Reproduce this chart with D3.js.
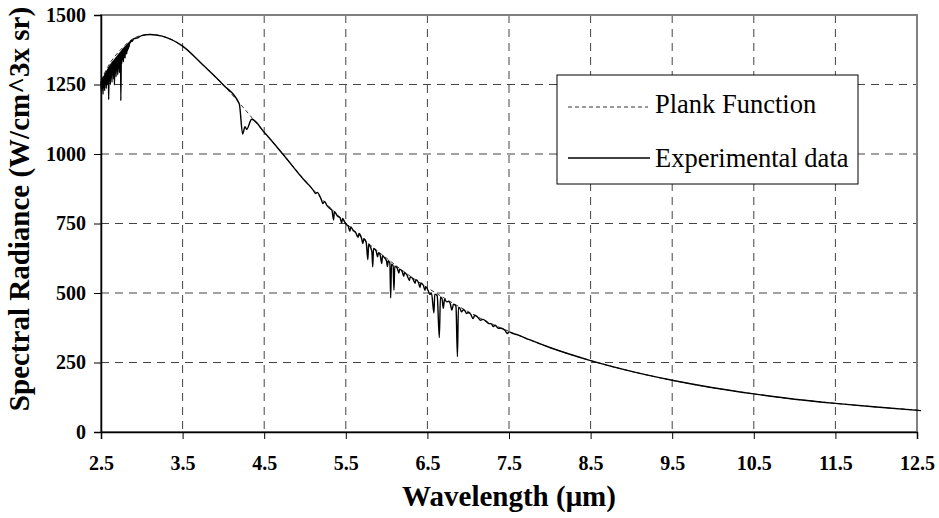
<!DOCTYPE html>
<html>
<head>
<meta charset="utf-8">
<script src="https://cdn.jsdelivr.net/npm/d3@7"></script>
<style>
  body { margin: 0; background: #fff; }
  svg text { font-family: "Liberation Serif", "Times New Roman", serif; }
</style>
</head>
<body>
<div id="chart"></div>
<script>
// data
var xTicks = [2.5, 3.5, 4.5, 5.5, 6.5, 7.5, 8.5, 9.5, 10.5, 11.5, 12.5];
var yTicks = [0, 250, 500, 750, 1000, 1250, 1500];

var planckWl = [2.5, 2.6, 2.75, 2.9, 3.0, 3.1, 3.25, 3.5, 3.75, 4.0, 4.25, 4.5, 4.75, 5.0, 5.25, 5.5, 5.75, 6.0, 6.25, 6.5, 6.75, 7.0, 7.25, 7.5, 8.0, 8.5, 9.0, 9.5, 10.0, 10.5, 11.0, 11.5, 12.0, 12.5];
var planckVal = [1265, 1322, 1378, 1416, 1427, 1430, 1424, 1388, 1320, 1248, 1165, 1078, 992, 905, 825, 752, 685, 625, 569, 519, 474, 433, 394, 362, 304, 257, 218, 186, 159, 137, 118, 103, 90, 79];

// experimental spectrum: noisy water band near 2.7, CO2 notch near 4.25, dense lines 5.2-7.6
var expWl = [
  2.5, 2.505, 2.51, 2.515, 2.52, 2.525, 2.53, 2.535, 2.54, 2.545, 2.55, 2.555, 2.56, 2.565, 2.57, 2.575, 2.58, 2.585, 2.59, 2.594,
  2.6, 2.605, 2.61, 2.615, 2.62, 2.625, 2.63, 2.635, 2.64, 2.645, 2.65, 2.655, 2.66, 2.665, 2.67, 2.675, 2.68, 2.685, 2.69, 2.695,
  2.7, 2.705, 2.71, 2.715, 2.72, 2.725, 2.73, 2.735, 2.74, 2.743, 2.75, 2.755, 2.76, 2.765, 2.77, 2.775, 2.78, 2.785, 2.79, 2.795,
  2.8, 2.805, 2.81, 2.815, 2.82, 2.825, 2.83, 2.835, 2.84, 2.845, 2.85, 2.86, 2.87, 2.88, 2.9, 2.95, 3.0, 3.1, 3.25, 3.5, 3.75, 4.0,
  4.195, 4.236, 4.265, 4.285, 4.347, 4.5, 4.75,
  5.0, 5.05, 5.1, 5.13, 5.15, 5.2, 5.22, 5.24, 5.27, 5.3, 5.33, 5.35, 5.36, 5.4, 5.43, 5.45, 5.46, 5.5, 5.53, 5.55, 5.56, 5.59, 5.62, 5.65, 5.66, 5.69, 5.71, 5.72, 5.75, 5.77, 5.78, 5.8, 5.82, 5.83, 5.84, 5.87, 5.89, 5.9, 5.92, 5.94, 5.95, 5.97, 6.0, 6.01, 6.02, 6.04, 6.05, 6.06, 6.08, 6.09, 6.1, 6.13, 6.15, 6.16, 6.19, 6.21, 6.22, 6.25, 6.28, 6.29, 6.32, 6.35, 6.36, 6.39, 6.41, 6.42, 6.45, 6.47, 6.48, 6.51, 6.53, 6.55, 6.58, 6.59, 6.62, 6.646, 6.66, 6.68, 6.695, 6.71, 6.736, 6.76, 6.78, 6.8, 6.82, 6.85, 6.868, 6.88, 6.9, 6.92, 6.94, 6.96, 6.98, 7.0, 7.03, 7.06, 7.08, 7.12, 7.15, 7.18, 7.22, 7.25, 7.28, 7.31, 7.33, 7.37, 7.4, 7.45, 7.48, 7.5, 7.55, 7.6,
  7.75, 8.0, 8.5, 9.0, 9.5, 10.0, 10.5, 11.0, 11.5, 12.0, 12.55];
var expVal = [
  1262, 1225, 1266, 1238, 1272, 1215, 1278, 1240, 1284, 1228, 1289, 1250, 1295, 1236, 1300, 1255, 1305, 1248, 1310, 1196,
  1316, 1262, 1320, 1250, 1324, 1275, 1328, 1258, 1332, 1285, 1336, 1270, 1339, 1248, 1343, 1292, 1346, 1278, 1350, 1300,
  1354, 1285, 1358, 1310, 1361, 1292, 1365, 1318, 1368, 1192, 1372, 1325, 1376, 1340, 1379, 1332, 1382, 1350, 1385, 1345,
  1388, 1362, 1391, 1360, 1394, 1372, 1397, 1378, 1400, 1385, 1403, 1400, 1409, 1405, 1414, 1418, 1426, 1430, 1424, 1388, 1320, 1248,
  1180, 1072, 1098, 1089, 1125, 1078, 992,
  903, 888, 870, 858, 862, 836, 822, 829, 814, 805, 798, 763, 792, 776, 770, 752, 768, 748, 740, 722, 738, 725, 718, 700, 714, 700, 678, 695, 682, 620, 676, 666, 648, 594, 660, 652, 630, 645, 638, 606, 634, 628, 614, 595, 616, 608, 482, 604, 598, 510, 596, 590, 572, 586, 578, 560, 574, 564, 545, 558, 552, 535, 548, 538, 520, 536, 528, 510, 522, 508, 495, 500, 428, 496, 490, 340, 486, 478, 445, 478, 468, 470, 462, 439, 460, 452, 271, 448, 444, 432, 440, 436, 426, 430, 424, 408, 420, 412, 402, 405, 398, 390, 390, 379, 384, 373, 373, 366, 354, 360, 354, 350,
  332, 304, 257, 218, 186, 159, 137, 118, 103, 90, 77];

var svgWidth = 939;
var svgHeight = 518;
var plot = {left: 101, right: 917, top: 15, bottom: 432};
var serif = "'Liberation Serif', 'Times New Roman', serif";

var svg = d3.select("#chart")
    .append("svg")
    .attr("width", svgWidth)
    .attr("height", svgHeight);

var xScale = d3.scaleLinear().domain([2.5, 12.5]).range([plot.left, plot.right]);
var yScale = d3.scaleLinear().domain([0, 1500]).range([plot.bottom, plot.top]);

// grid lines
svg.append("g")
    .selectAll("line")
    .data(xTicks.slice(1, -1))
    .enter()
    .append("line")
    .attr("x1", d => xScale(d)).attr("x2", d => xScale(d))
    .attr("y1", plot.top).attr("y2", plot.bottom)
    .attr("stroke", "#444").attr("stroke-width", 1)
    .attr("stroke-dasharray", "8,6");
svg.append("g")
    .selectAll("line")
    .data(yTicks.slice(1, -1))
    .enter()
    .append("line")
    .attr("x1", plot.left).attr("x2", plot.right)
    .attr("y1", d => yScale(d)).attr("y2", d => yScale(d))
    .attr("stroke", "#444").attr("stroke-width", 1)
    .attr("stroke-dasharray", "8,6");

// plot area border
svg.append("rect")
    .attr("x", plot.left).attr("y", plot.top)
    .attr("width", plot.right - plot.left).attr("height", plot.bottom - plot.top)
    .attr("fill", "none").attr("stroke", "#808080").attr("stroke-width", 2);

// curves
var planckLine = d3.line()
    .x((d, i) => xScale(planckWl[i]))
    .y(d => yScale(d))
    .curve(d3.curveMonotoneX);
var expLine = d3.line()
    .x((d, i) => xScale(expWl[i]))
    .y(d => yScale(d))
    .curve(d3.curveMonotoneX);

svg.append("path")
    .attr("d", planckLine(planckVal))
    .attr("fill", "none").attr("stroke", "#333").attr("stroke-width", 1)
    .attr("stroke-dasharray", "4,3");
svg.append("path")
    .attr("d", expLine(expVal))
    .attr("fill", "none").attr("stroke", "#000").attr("stroke-width", 1.4);

// axes
var xAxis = d3.axisBottom(xScale).tickValues(xTicks).tickSize(7).tickFormat(d3.format(".1f"));
var yAxis = d3.axisLeft(yScale).tickValues(yTicks).tickSize(7).tickFormat(d3.format("d"));

var gx = svg.append("g")
    .attr("transform", `translate(0, ${plot.bottom})`)
    .call(xAxis);
var gy = svg.append("g")
    .attr("transform", `translate(${plot.left}, 0)`)
    .call(yAxis);

gx.select(".domain").attr("stroke", "#000").attr("stroke-width", 1.5);
gy.select(".domain").attr("stroke", "#000").attr("stroke-width", 1.5);
gx.selectAll(".tick line").attr("stroke", "#000");
gy.selectAll(".tick line").attr("stroke", "#000");
gx.selectAll(".tick text")
    .attr("y", 38)
    .attr("dy", "0")
    .style("font-family", serif)
    .style("font-size", "20px").style("font-weight", "bold").attr("fill", "#000");
gy.selectAll(".tick text")
    .attr("x", -15)
    .style("font-family", serif)
    .style("font-size", "20px").style("font-weight", "bold").attr("fill", "#000");

// axis titles
svg.append("text")
    .attr("x", (plot.left + plot.right) / 2)
    .attr("y", 506)
    .attr("text-anchor", "middle")
    .style("font-family", serif)
    .style("font-size", "29px").style("font-weight", "bold")
    .text("Wavelength (\u03bcm)");
svg.append("text")
    .attr("transform", "translate(29, 209) rotate(-90)")
    .attr("text-anchor", "middle")
    .style("font-family", serif)
    .style("font-size", "29px").style("font-weight", "bold")
    .text("Spectral Radiance (W/cm^3x sr)");

// legend
var legend = svg.append("g");
legend.append("rect")
    .attr("x", 557).attr("y", 75).attr("width", 301).attr("height", 109)
    .attr("fill", "#fff").attr("stroke", "#000").attr("stroke-width", 1);
legend.append("line")
    .attr("x1", 568).attr("x2", 648).attr("y1", 107).attr("y2", 107)
    .attr("stroke", "#333").attr("stroke-width", 1).attr("stroke-dasharray", "4,3");
legend.append("text")
    .attr("x", 655).attr("y", 113)
    .style("font-family", serif)
    .style("font-size", "26.5px")
    .text("Plank Function");
legend.append("line")
    .attr("x1", 568).attr("x2", 650).attr("y1", 158).attr("y2", 158)
    .attr("stroke", "#000").attr("stroke-width", 1.4);
legend.append("text")
    .attr("x", 655).attr("y", 167)
    .style("font-family", serif)
    .style("font-size", "26.5px")
    .text("Experimental data");
</script>
</body>
</html>
